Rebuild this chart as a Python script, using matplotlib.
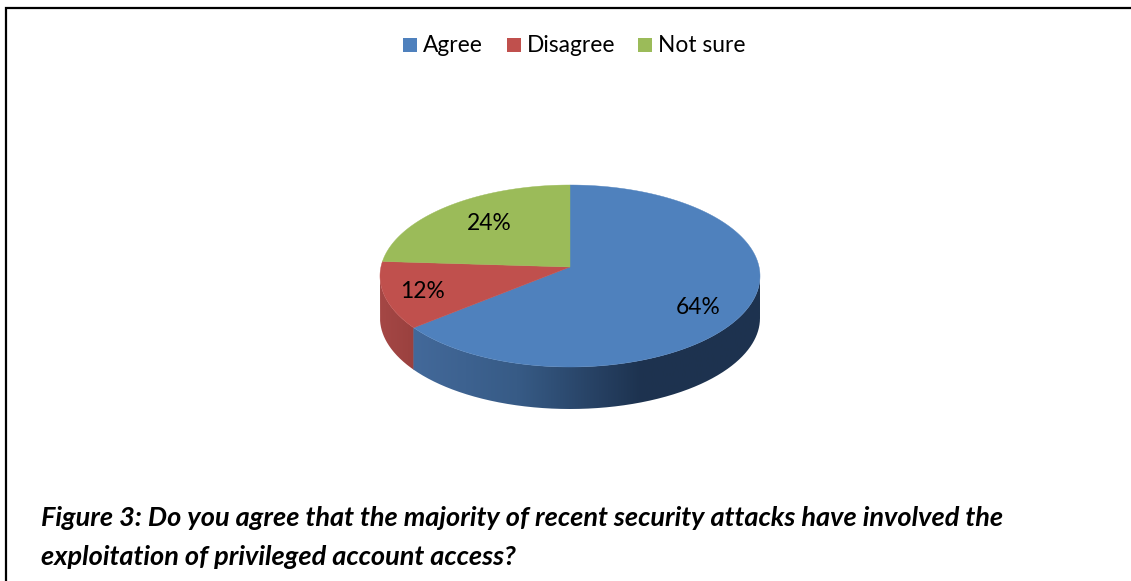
import numpy as np
import matplotlib
matplotlib.use("Agg")
import matplotlib.pyplot as plt
from matplotlib.colors import LinearSegmentedColormap
from matplotlib.patches import PathPatch
from matplotlib.path import Path

categories = ["Agree", "Disagree", "Not sure"]
values = [64, 12, 24]
labels = ["64%", "12%", "24%"]
colors = ["#4f81bd", "#c0504d", "#9bbb59"]
caption = ["Figure 3: Do you agree that the majority of recent security attacks have involved the",
           "exploitation of privileged account access?"]

W, H = 1131, 581
plt.rcParams['font.family'] = ['Lato', 'DejaVu Sans']
fig = plt.figure(figsize=(W / 100, H / 100), dpi=100)
ax = fig.add_axes([0, 0, 1, 1])
ax.set_xlim(0, W)
ax.set_ylim(H, 0)
ax.axis('off')

# Pie geometry: tilted disc seen in perspective, so the apex sits above the ellipse centre
cx, cy, rx, ry = 570, 276, 190, 91
ax0, ay0 = 570, 267
depth = 42
tilt = 0.47


def rim(a):
    """Where the ray from the apex at pie angle a meets the ellipse."""
    dx, dy = np.sin(a), -tilt * np.cos(a)
    ox, oy = (ax0 - cx) / rx, (ay0 - cy) / ry
    ux, uy = dx / rx, dy / ry
    A = ux ** 2 + uy ** 2
    B = 2 * (ox * ux + oy * uy)
    C = ox ** 2 + oy ** 2 - 1
    t = (-B + np.sqrt(B ** 2 - 4 * A * C)) / (2 * A)
    return ax0 + t * dx, ay0 + t * dy


fractions = np.cumsum([0] + values) / sum(values) * 2 * np.pi


def side(a0, a1, cmap, z):
    x0, _ = rim(np.array([a0]))
    x1, _ = rim(np.array([a1]))
    a = np.linspace(0, 2 * np.pi, 1441)
    ex, ey = cx + rx * np.sin(a), cy - ry * np.cos(a)
    keep = (a >= np.pi / 2) & (a <= 3 * np.pi / 2) & (ex <= max(x0[0], x1[0]) + 0.5) & (ex >= min(x0[0], x1[0]) - 0.5)
    if a1 > 3 * np.pi / 2 or a0 < np.pi / 2:
        keep = (a >= np.pi / 2) & (a <= 3 * np.pi / 2)
        if a0 < np.pi / 2:
            keep &= ex >= x1[0] - 0.5
        else:
            keep &= ex <= x0[0] + 0.5
    x, y = ex[keep], ey[keep]
    verts = np.r_[np.c_[x, y], np.c_[x[::-1], y[::-1] + depth]]
    patch = PathPatch(Path(np.r_[verts, verts[:1]]), fc='none', ec='none', zorder=z)
    ax.add_patch(patch)
    im = ax.imshow(np.linspace(0, 1, 256)[None, :], extent=(x.min(), x.max(), H, 0),
                   cmap=cmap, aspect='auto', zorder=z, interpolation='bilinear')
    im.set_clip_path(patch)


blue_side = LinearSegmentedColormap.from_list(
    "b", [(0, "#43699a"), (0.3, "#375b86"), (0.66, "#1d324f"), (1, "#1e334f")])
red_side = LinearSegmentedColormap.from_list("r", ["#a54745", "#9a413f"])
side(fractions[1], fractions[2], red_side, 1)
side(fractions[0], fractions[1], blue_side, 1.1)
ax.set_xlim(0, W)
ax.set_ylim(H, 0)

for i, col in enumerate(colors):
    a = np.linspace(fractions[i], fractions[i + 1], 200)
    x, y = rim(a)
    ax.fill(np.r_[ax0, x], np.r_[ay0, y], color=col, lw=0.3, zorder=2)

label_pos = [(698, 308), (422, 291), (489, 224)]
for s, (x, y) in zip(labels, label_pos):
    ax.text(x, y, s, fontsize=16.4, ha='center', va='center', color='black', zorder=3)

# Legend
for x, name, col in zip([403, 507, 638], categories, colors):
    ax.fill([x, x + 14, x + 14, x], [38, 38, 52, 52], color=col, lw=0)
    ax.text(x + 20, 45, name, fontsize=16.4, va='center', ha='left', color='black')

# Border
ax.plot([1131, 5.5, 5.5], [7.5, 7.5, 581], color='black', lw=1.6, solid_joinstyle='miter')

for y, s in zip([526, 565], caption):
    ax.text(41, y, s, fontsize=19.5, style='italic', weight='bold', va='baseline', ha='left', color='black')

fig.savefig("out.png", dpi=100)
